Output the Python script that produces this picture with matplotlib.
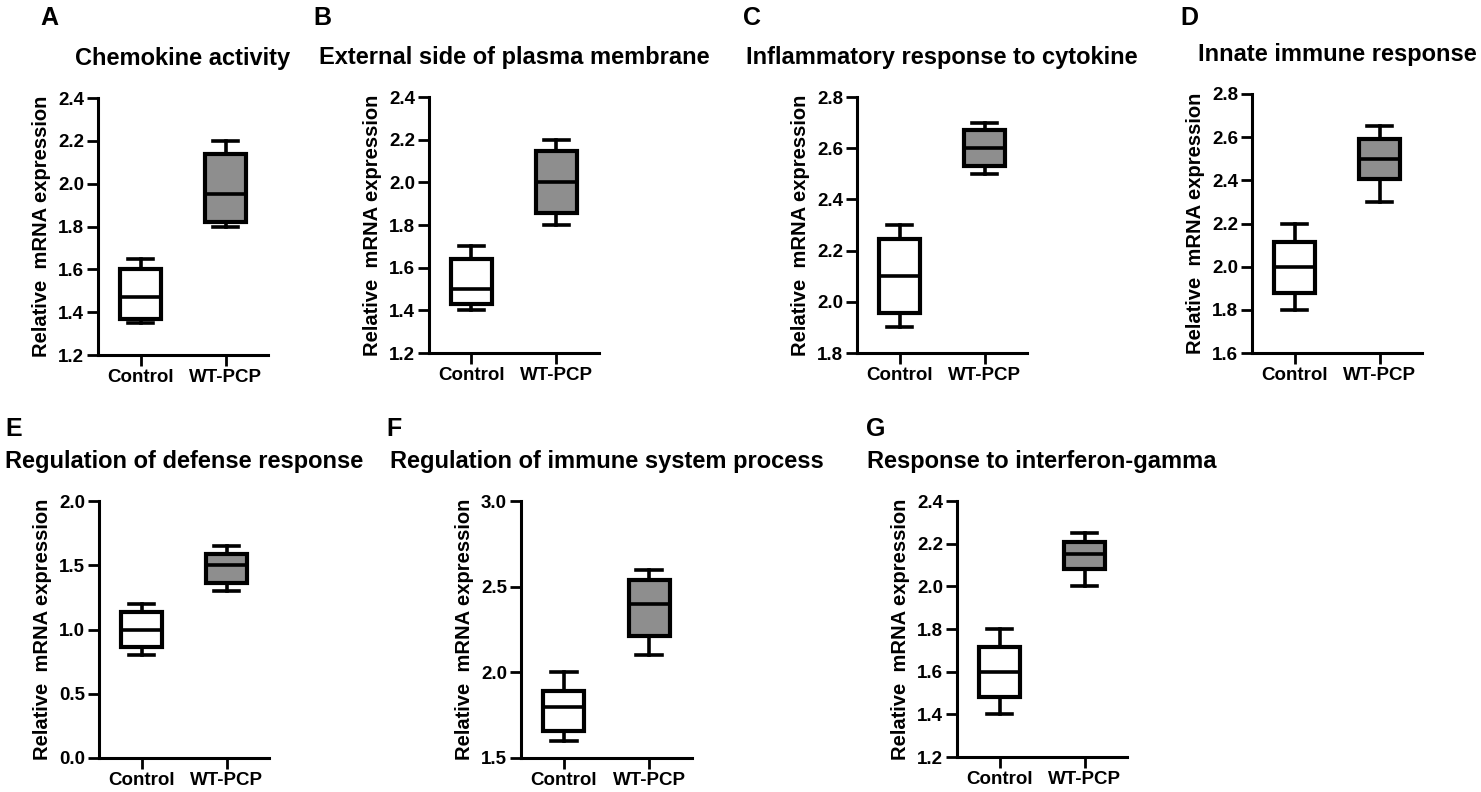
import matplotlib
matplotlib.use("Agg")
import matplotlib.pyplot as plt
import numpy as np

plt.rcParams['font.family'] = ['Liberation Sans', 'DejaVu Sans']
plt.rcParams['font.weight'] = 'bold'

groups = ["Control", "WT-PCP"]
letters = ["A", "B", "C", "D", "E", "F", "G"]
titles = ["Chemokine activity", "External side of plasma membrane",
          "Inflammatory response to cytokine", "Innate immune response",
          "Regulation of defense response", "Regulation of immune system process",
          "Response to interferon-gamma"]

# (min, q1, median, q3, max)
control = [(1.35, 1.37, 1.47, 1.60, 1.65),
           (1.40, 1.43, 1.50, 1.64, 1.70),
           (1.90, 1.955, 2.10, 2.245, 2.30),
           (1.80, 1.88, 2.00, 2.115, 2.20),
           (0.80, 0.86, 1.00, 1.14, 1.20),
           (1.60, 1.66, 1.80, 1.89, 2.00),
           (1.40, 1.48, 1.60, 1.715, 1.80)]
wtpcp = [(1.80, 1.82, 1.95, 2.14, 2.20),
         (1.80, 1.855, 2.00, 2.145, 2.20),
         (2.50, 2.53, 2.60, 2.67, 2.70),
         (2.30, 2.405, 2.50, 2.59, 2.65),
         (1.30, 1.36, 1.50, 1.59, 1.65),
         (2.10, 2.21, 2.40, 2.54, 2.60),
         (2.00, 2.08, 2.15, 2.21, 2.25)]
ylims = [(1.2, 2.4), (1.2, 2.4), (1.8, 2.8), (1.6, 2.8), (0.0, 2.0), (1.5, 3.0), (1.2, 2.4)]
ysteps = [0.2, 0.2, 0.2, 0.2, 0.5, 0.5, 0.2]

W, H = 1481, 792
fig = plt.figure(figsize=(W / 100, H / 100), dpi=100)

# axes boxes in pixels: left, top, right, bottom
boxes = [(98, 98, 268, 355), (429, 97, 599, 353), (857, 97, 1027, 353),
         (1252, 94, 1422, 353), (99, 501, 269, 758), (521, 501, 692, 758),
         (957, 501, 1127, 757)]
letter_pos = [(40, 25), (313, 25), (743, 25), (1180, 25), (5, 436), (386, 436), (866, 436)]

for i in range(7):
    l, t, r, b = boxes[i]
    ax = fig.add_axes([l / W, 1 - b / H, (r - l) / W, (b - t) / H])
    stats = []
    for g, s in zip(groups, [control[i], wtpcp[i]]):
        stats.append(dict(label=g, whislo=s[0], q1=s[1], med=s[2], q3=s[3], whishi=s[4], fliers=[]))
    bp = ax.bxp(stats, positions=[0, 1], widths=0.48, capwidths=0.3, patch_artist=True,
                showfliers=False,
                boxprops=dict(linewidth=3.0, edgecolor='black'),
                medianprops=dict(linewidth=2.6, color='black'),
                whiskerprops=dict(linewidth=2.6, color='black'),
                capprops=dict(linewidth=2.6, color='black'))
    bp['boxes'][0].set_facecolor('white')
    bp['boxes'][1].set_facecolor('#8e8e8e')
    ax.set_xlim(-0.5, 1.5)
    lo, hi = ylims[i]
    ax.set_ylim(lo, hi)
    ax.set_yticks(np.round(np.arange(lo, hi + 1e-9, ysteps[i]), 2))
    ax.yaxis.set_major_formatter(matplotlib.ticker.FormatStrFormatter('%.1f'))
    for sp in ['top', 'right']:
        ax.spines[sp].set_visible(False)
    for sp in ['left', 'bottom']:
        ax.spines[sp].set_linewidth(2.2)
    ax.tick_params(width=2.0, length=8, pad=2, labelsize=13.5)
    ax.set_ylabel("Relative  mRNA expression", fontsize=14.5, fontweight='bold', labelpad=5)
    ax.set_title(titles[i], fontsize=17, fontweight='bold', pad=24)
    fig.text(letter_pos[i][0] / W, 1 - letter_pos[i][1] / H, letters[i],
             fontsize=18, fontweight='bold', va='baseline', ha='left')

fig.savefig("out.png", dpi=100)
